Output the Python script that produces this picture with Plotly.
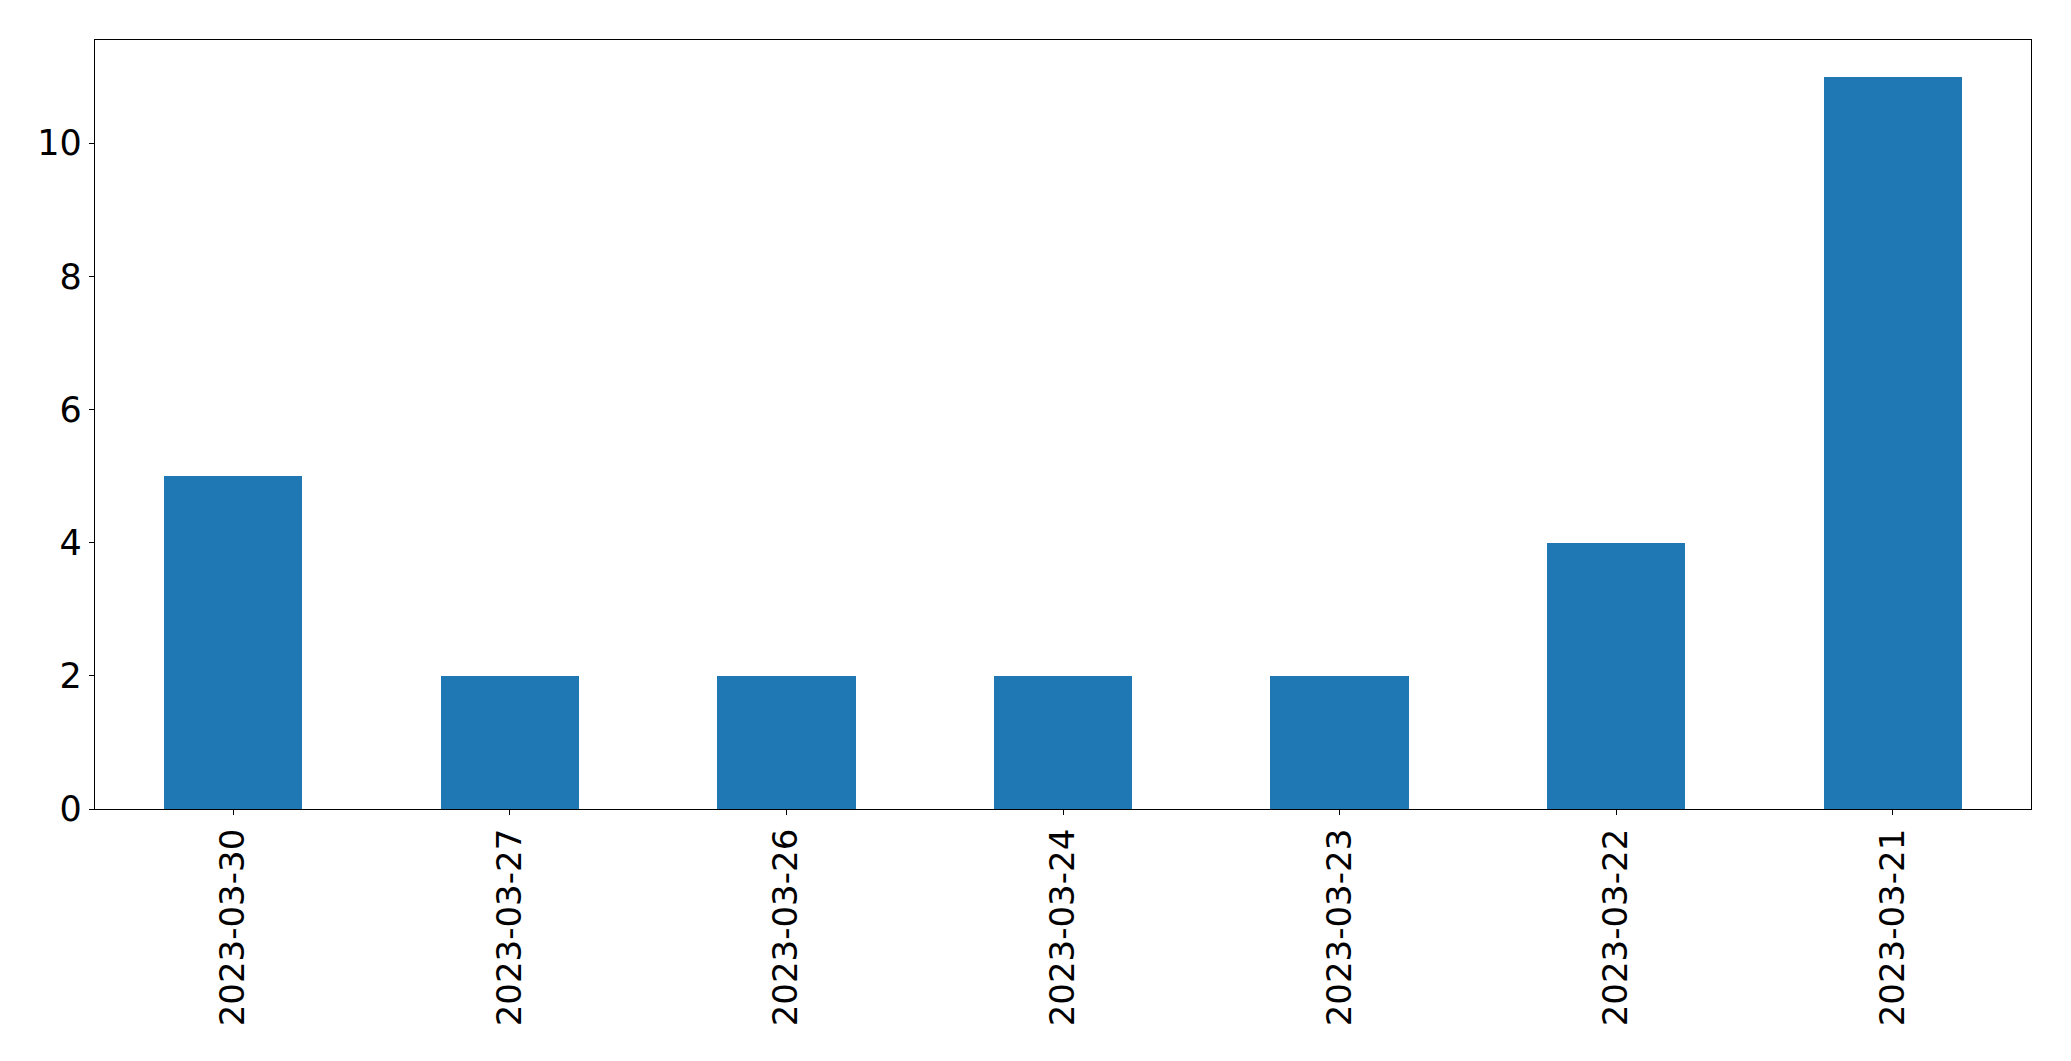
import plotly.graph_objects as go

dates = ["2023-03-30", "2023-03-27", "2023-03-26", "2023-03-24", "2023-03-23", "2023-03-22", "2023-03-21"]
counts = [5, 2, 2, 2, 2, 4, 11]

fig = go.Figure()
fig.add_trace(go.Bar(x=dates, y=counts, marker=dict(color="#1f77b4", line=dict(width=0)), width=0.5))

axis_common = dict(
    showline=True, linecolor="black", linewidth=1.3, mirror=True,
    ticks="outside", ticklen=5, tickwidth=1.3, tickcolor="black",
    showgrid=False, zeroline=False,
)

fig.update_layout(
    width=2071, height=1061,
    margin=dict(l=95, r=40, t=40, b=252),
    plot_bgcolor="white", paper_bgcolor="white",
    showlegend=False,
    bargap=0,
    xaxis=dict(type="category", range=[-0.5, 6.5], tickangle=-90,
               tickfont=dict(family="DejaVu Sans", size=34, color="black"), **axis_common),
    yaxis=dict(range=[0, 11.55], tickvals=[0, 2, 4, 6, 8, 10], ticktext=["0", "2", "4", "6", "8", "10"],
               tickfont=dict(family="DejaVu Sans", size=35, color="black"), **axis_common),
)

fig.write_html("out.html")
